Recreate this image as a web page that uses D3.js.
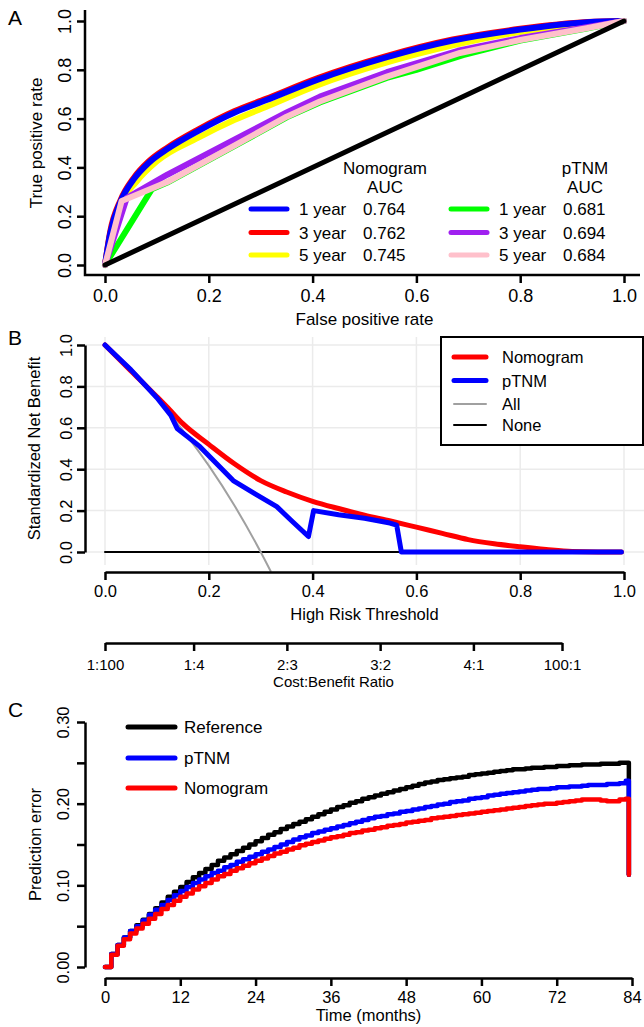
<!DOCTYPE html>
<html>
<head>
<meta charset="utf-8">
<script src="https://cdn.jsdelivr.net/npm/d3@7"></script>
<style>
  html, body { margin: 0; padding: 0; background: #fff; }
  svg { display: block; font-family: "Liberation Sans", Arial, sans-serif; }
</style>
</head>
<body>
<div id="root"></div>
<script>
// ---------- Panel A: ROC curves (fpr, tpr) ----------
const rocNomo1 = [[0, 0], [0.01, 0.13], [0.03, 0.26], [0.055, 0.35], [0.085, 0.42], [0.12, 0.475], [0.18, 0.55], [0.25, 0.625], [0.31, 0.675], [0.41, 0.76], [0.54, 0.85], [0.67, 0.92], [0.8, 0.965], [0.93, 0.995], [1, 1]];
const rocNomo3 = [[0, 0], [0.01, 0.136], [0.03, 0.266], [0.055, 0.356], [0.085, 0.426], [0.12, 0.481], [0.18, 0.556], [0.25, 0.631], [0.31, 0.681], [0.41, 0.766], [0.54, 0.855], [0.67, 0.924], [0.8, 0.968], [0.93, 0.996], [1, 1]];
const rocNomo5 = [[0, 0], [0.01, 0.125], [0.03, 0.25], [0.06, 0.34], [0.1, 0.425], [0.18, 0.522], [0.25, 0.595], [0.31, 0.648], [0.41, 0.737], [0.54, 0.828], [0.67, 0.9], [0.8, 0.955], [0.93, 0.99], [1, 1]];
const rocTnm1 = [[0, 0], [0.09, 0.31], [0.12, 0.338], [0.25, 0.488], [0.35, 0.605], [0.414, 0.666], [0.543, 0.767], [0.6, 0.8], [0.69, 0.86], [0.8, 0.92], [0.928, 0.969], [1, 1]];
const rocTnm3 = [[0, 0], [0.042, 0.275], [0.12, 0.37], [0.25, 0.515], [0.35, 0.625], [0.414, 0.69], [0.543, 0.79], [0.68, 0.878], [0.8, 0.93], [0.928, 0.975], [1, 1]];
const rocTnm5 = [[0, 0], [0.032, 0.262], [0.12, 0.34], [0.25, 0.49], [0.35, 0.608], [0.414, 0.67], [0.543, 0.772], [0.684, 0.869], [0.8, 0.922], [0.928, 0.97], [1, 1]];
const rocDiagonal = [[0, 0], [1, 1]];
const yearLabels = ["1 year", "3 year", "5 year"];
const nomoAuc = ["0.764", "0.762", "0.745"];
const tnmAuc = ["0.681", "0.694", "0.684"];
const unitTicks = [0, 0.2, 0.4, 0.6, 0.8, 1.0];
const unitLabels = ["0.0", "0.2", "0.4", "0.6", "0.8", "1.0"];

// ---------- Panel B: decision curves (threshold, standardized net benefit) ----------
const dcaNomogram = [[0, 1.0], [0.05, 0.875], [0.1, 0.75], [0.125, 0.686], [0.15, 0.62], [0.2, 0.52], [0.25, 0.425], [0.3, 0.345], [0.35, 0.29], [0.4, 0.245], [0.45, 0.21], [0.5, 0.178], [0.55, 0.15], [0.6, 0.12], [0.65, 0.09], [0.7, 0.06], [0.75, 0.04], [0.8, 0.025], [0.85, 0.012], [0.9, 0.002], [0.95, 0], [0.995, 0]];
const dcaTnm = [[0, 1.0], [0.05, 0.88], [0.1, 0.745], [0.127, 0.66], [0.139, 0.597], [0.16, 0.555], [0.183, 0.509], [0.21, 0.44], [0.247, 0.345], [0.29, 0.28], [0.331, 0.219], [0.36, 0.15], [0.392, 0.075], [0.402, 0.2], [0.45, 0.18], [0.5, 0.163], [0.549, 0.14], [0.562, 0.13], [0.571, 0.0], [0.995, 0]];
const dcaAll = [[0, 1.0], [0.05, 0.877], [0.1, 0.741], [0.15, 0.588], [0.2, 0.417], [0.25, 0.222], [0.3, 0.0], [0.319, -0.092]];
const dcaNone = [[0, 0], [0.995, 0]];
const costBenefitTicks = [0.01, 0.2, 0.4, 0.6, 0.8, 0.99];
const costBenefitLabels = ["1:100", "1:4", "2:3", "3:2", "4:1", "100:1"];

// ---------- Panel C: prediction error by month ----------
const errReference = [
  0, 0.016, 0.027, 0.036, 0.044, 0.051, 0.058, 0.065, 0.072, 0.079,
  0.086, 0.092, 0.098, 0.104, 0.110, 0.115, 0.120, 0.125, 0.130, 0.134,
  0.138, 0.142, 0.146, 0.150, 0.154, 0.158, 0.162, 0.165, 0.169, 0.172,
  0.175, 0.178, 0.181, 0.184, 0.187, 0.190, 0.193, 0.196, 0.198, 0.201,
  0.203, 0.206, 0.208, 0.210, 0.212, 0.214, 0.216, 0.218, 0.220, 0.222,
  0.224, 0.226, 0.227, 0.229, 0.230, 0.231, 0.232, 0.233, 0.235, 0.236,
  0.237, 0.238, 0.239, 0.240, 0.241, 0.242, 0.242, 0.243, 0.244, 0.244,
  0.245, 0.245, 0.246, 0.246, 0.247, 0.247, 0.248, 0.248, 0.248, 0.249,
  0.249, 0.249, 0.250, 0.250];
const errTnm = [
  0, 0.016, 0.027, 0.036, 0.044, 0.050, 0.057, 0.064, 0.070, 0.076,
  0.082, 0.088, 0.093, 0.098, 0.103, 0.107, 0.111, 0.115, 0.118, 0.122,
  0.125, 0.129, 0.132, 0.135, 0.138, 0.141, 0.144, 0.147, 0.150, 0.153,
  0.156, 0.159, 0.161, 0.164, 0.166, 0.168, 0.170, 0.172, 0.174, 0.176,
  0.178, 0.180, 0.182, 0.184, 0.185, 0.187, 0.188, 0.190, 0.191, 0.193,
  0.194, 0.196, 0.197, 0.199, 0.200, 0.202, 0.203, 0.204, 0.206, 0.207,
  0.208, 0.210, 0.211, 0.212, 0.213, 0.214, 0.215, 0.216, 0.217, 0.218,
  0.218, 0.219, 0.220, 0.220, 0.221, 0.221, 0.222, 0.223, 0.223, 0.223,
  0.224, 0.224, 0.225, 0.228];
const errNomogram = [
  0, 0.015, 0.026, 0.034, 0.041, 0.047, 0.053, 0.059, 0.065, 0.071,
  0.076, 0.081, 0.086, 0.090, 0.095, 0.099, 0.103, 0.107, 0.111, 0.114,
  0.118, 0.121, 0.124, 0.127, 0.130, 0.133, 0.136, 0.139, 0.141, 0.144,
  0.146, 0.149, 0.151, 0.153, 0.155, 0.157, 0.159, 0.160, 0.162, 0.164,
  0.165, 0.167, 0.168, 0.170, 0.171, 0.173, 0.174, 0.175, 0.177, 0.178,
  0.179, 0.180, 0.182, 0.183, 0.184, 0.185, 0.186, 0.187, 0.188, 0.189,
  0.190, 0.191, 0.192, 0.193, 0.194, 0.195, 0.196, 0.197, 0.198, 0.199,
  0.200, 0.200, 0.201, 0.202, 0.203, 0.204, 0.205, 0.205, 0.205, 0.204,
  0.203, 0.203, 0.205, 0.206];
const errDropMonth = 83.5;
const errDropValue = 0.113;
const monthTicks = [0, 12, 24, 36, 48, 60, 72, 84];
const errTicks = [0, 0.05, 0.1, 0.15, 0.2, 0.25, 0.3];
const errTickLabels = ["0.00", "", "0.10", "", "0.20", "", "0.30"];

// ---------- layout ----------
const width = 644;
const height = 1027;
const font = "Liberation Sans, Arial, sans-serif";

const svg = d3.select("#root").append("svg")
  .attr("width", width).attr("height", height)
  .attr("viewBox", `0 0 ${width} ${height}`);

const addText = (x, y, str, size, anchor = "middle", rotate = false) => {
  const t = svg.append("text")
    .attr("font-size", size).attr("text-anchor", anchor).attr("fill", "#000").text(str);
  if (rotate) t.attr("transform", `translate(${x},${y}) rotate(-90)`);
  else t.attr("x", x).attr("y", y);
  return t;
};

const styleAxis = (g, size) => {
  g.attr("font-family", font).attr("font-size", size);
  g.selectAll(".domain, .tick line").attr("stroke", "#000").attr("stroke-width", 2.5);
  g.selectAll(".tick text").attr("fill", "#000");
};

const bottomAxis = (scale, ticks, labels, y, labelY, size) => {
  const g = svg.append("g").attr("transform", `translate(0,${y})`)
    .call(d3.axisBottom(scale).tickValues(ticks).tickFormat((d, i) => labels[i])
      .tickSize(8).tickSizeOuter(0));
  styleAxis(g, size);
  g.selectAll(".tick text").attr("y", labelY).attr("dy", null);
  return g;
};

const leftAxis = (scale, ticks, labels, x, offset, size) => {
  const g = svg.append("g").attr("transform", `translate(${x},0)`)
    .call(d3.axisLeft(scale).tickValues(ticks).tickFormat((d, i) => labels[i])
      .tickSize(8).tickSizeOuter(0));
  styleAxis(g, size);
  g.selectAll(".tick text")
    .attr("x", 0).attr("y", -offset).attr("dy", null)
    .attr("text-anchor", "middle").attr("transform", "rotate(-90)");
  return g;
};

const drawLine = (data, x, y, color, w, curve = d3.curveLinear) => svg.append("path")
  .datum(data)
  .attr("fill", "none")
  .attr("stroke", color)
  .attr("stroke-width", w)
  .attr("stroke-linecap", "round")
  .attr("stroke-linejoin", "round")
  .attr("d", d3.line().x((d) => x(d[0])).y((d) => y(d[1])).curve(curve));

const legendLine = (x1, x2, y, color, w) => svg.append("line")
  .attr("x1", x1).attr("x2", x2).attr("y1", y).attr("y2", y)
  .attr("stroke", color).attr("stroke-width", w).attr("stroke-linecap", "round");

// ================= Panel A =================
const xA = d3.scaleLinear().domain([0, 1]).range([105, 624]);
const yA = d3.scaleLinear().domain([0, 1]).range([265, 21]);

drawLine(rocNomo5, xA, yA, "#ffff00", 6, d3.curveMonotoneX);
drawLine(rocNomo3, xA, yA, "#ff0000", 6, d3.curveMonotoneX);
drawLine(rocNomo1, xA, yA, "#0000ff", 6, d3.curveMonotoneX);
drawLine(rocTnm1, xA, yA, "#00ff00", 6);
drawLine(rocTnm3, xA, yA, "#a020f0", 6);
drawLine(rocTnm5, xA, yA, "#ffc0cb", 6);
drawLine(rocDiagonal, xA, yA, "#000", 5);

svg.append("path").attr("d", "M85,10V275H640")
  .attr("fill", "none").attr("stroke", "#000").attr("stroke-width", 2.5);
bottomAxis(xA, unitTicks, unitLabels, 275, 27, 18).select(".domain").remove();
leftAxis(yA, unitTicks, unitLabels, 85, 14, 18).select(".domain").remove();

addText(364.5, 325, "False positive rate", 17);
addText(42, 143, "True positive rate", 17, "middle", true);
addText(8, 25, "A", 21, "start");

// legend A
const rowY = [209, 232.5, 255];
const nomoColors = ["#0000ff", "#ff0000", "#ffff00"];
const tnmColors = ["#00ff00", "#a020f0", "#ffc0cb"];
addText(385, 174, "Nomogram", 17);
addText(385, 193, "AUC", 17);
addText(585, 174, "pTNM", 17);
addText(585, 193, "AUC", 17);
rowY.forEach((y, i) => {
  legendLine(251, 287, y, nomoColors[i], 5);
  addText(299, y + 6, yearLabels[i], 17, "start");
  addText(363, y + 6, nomoAuc[i], 17, "start");
  legendLine(451, 487, y, tnmColors[i], 5);
  addText(499, y + 6, yearLabels[i], 17, "start");
  addText(563, y + 6, tnmAuc[i], 17, "start");
});

// ================= Panel B =================
const xB = d3.scaleLinear().domain([0, 1]).range([105, 624]);
const yB = d3.scaleLinear().domain([0, 1]).range([552, 345]);

const grid = svg.append("g").attr("stroke", "#ebebeb").attr("stroke-width", 1.5);
unitTicks.forEach((t) => {
  grid.append("line").attr("x1", xB(t)).attr("x2", xB(t)).attr("y1", 337).attr("y2", 565);
  grid.append("line").attr("x1", 85).attr("x2", 644).attr("y1", yB(t)).attr("y2", yB(t));
});

drawLine(dcaNone, xB, yB, "#000", 2);
drawLine(dcaAll, xB, yB, "#a0a0a0", 2, d3.curveMonotoneX);
drawLine(dcaNomogram, xB, yB, "#ff0000", 5, d3.curveMonotoneX);
drawLine(dcaTnm, xB, yB, "#0000ff", 5);

leftAxis(yB, unitTicks, unitLabels, 85, 13, 16.5);
bottomAxis(xB, unitTicks, unitLabels, 572, 25, 16.5);
addText(364.5, 620, "High Risk Threshold", 16.5);
addText(40, 448.5, "Standardized Net Benefit", 16.5, "middle", true);
addText(8, 345, "B", 21, "start");

// cost:benefit axis
const xCB = d3.scaleLinear().domain([0.01, 0.99]).range([105, 562]);
bottomAxis(xCB, costBenefitTicks, costBenefitLabels, 643, 27, 15);
addText(333.5, 687, "Cost:Benefit Ratio", 15);

// legend B
svg.append("rect").attr("x", 441).attr("y", 337).attr("width", 202).attr("height", 108)
  .attr("fill", "#fff").attr("stroke", "#000").attr("stroke-width", 2);
const legendB = [
  { label: "Nomogram", color: "#ff0000", w: 5, y: 357 },
  { label: "pTNM", color: "#0000ff", w: 5, y: 380.5 },
  { label: "All", color: "#a0a0a0", w: 2, y: 404 },
  { label: "None", color: "#000", w: 2, y: 425 }
];
legendB.forEach((d) => {
  legendLine(454, 486, d.y, d.color, d.w);
  addText(502, d.y + 6, d.label, 16.5, "start");
});

// ================= Panel C =================
const xC = d3.scaleLinear().domain([0, 84]).range([105, 632]);
const yC = d3.scaleLinear().domain([0, 0.3]).range([967, 722]);

const stepData = (values) => values.map((v, i) => [i, v]).concat([[errDropMonth, errDropValue]]);
drawLine(stepData(errReference), xC, yC, "#000", 4.5, d3.curveStepAfter);
drawLine(stepData(errTnm), xC, yC, "#0000ff", 4.5, d3.curveStepAfter);
drawLine(stepData(errNomogram), xC, yC, "#ff0000", 4.5, d3.curveStepAfter);

leftAxis(yC, errTicks, errTickLabels, 85, 16, 16.5);
bottomAxis(xC, monthTicks, monthTicks.map(String), 978, 25, 16.5);
addText(368.5, 1021, "Time (months)", 16.5);
addText(41, 844.5, "Prediction error", 16.5, "middle", true);
addText(8, 717, "C", 21, "start");

// legend C
const legendC = [
  { label: "Reference", color: "#000", y: 727 },
  { label: "pTNM", color: "#0000ff", y: 758 },
  { label: "Nomogram", color: "#ff0000", y: 788 }
];
legendC.forEach((d) => {
  legendLine(128, 175, d.y, d.color, 5);
  addText(184, d.y + 6, d.label, 17, "start");
});
</script>
</body>
</html>
